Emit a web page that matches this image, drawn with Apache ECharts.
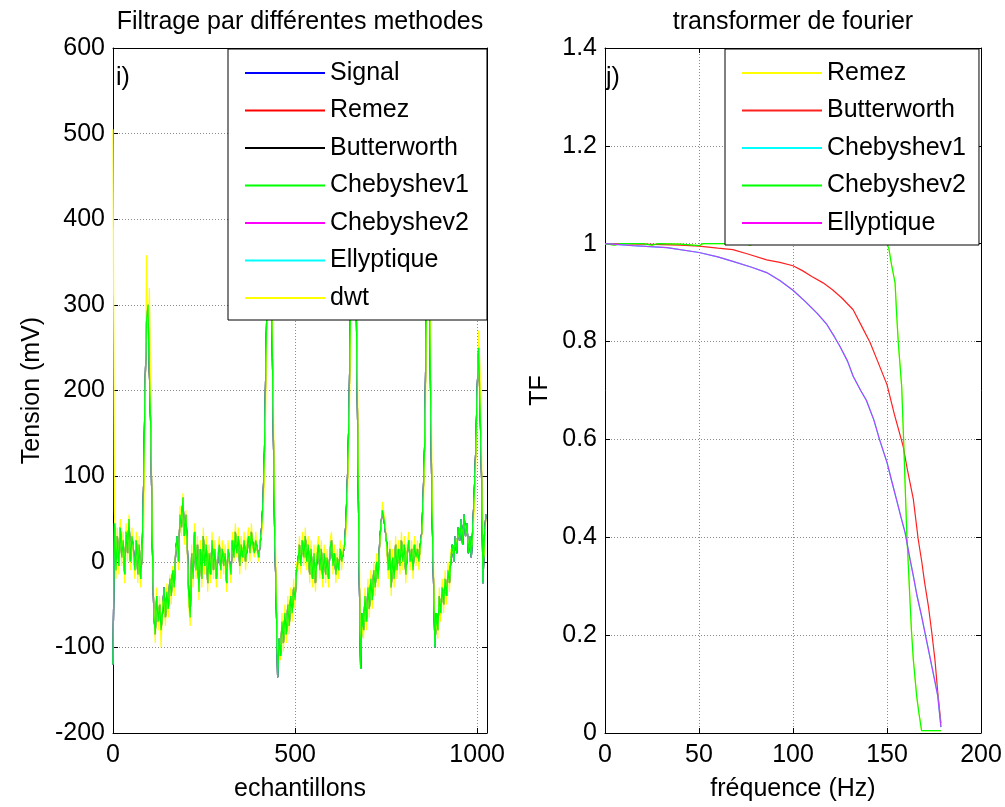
<!DOCTYPE html>
<html><head><meta charset="utf-8">
<script src="https://cdn.jsdelivr.net/npm/echarts@6/dist/echarts.min.js"></script>
<style>html,body{margin:0;padding:0;background:#fff}
#wrap{position:relative;width:1005px;height:807px}
.c{position:absolute;left:0;top:0;width:1005px;height:807px}</style>
</head><body><div id="wrap"><div id="a" class="c"></div><div id="b" class="c"></div></div>
<script>
const FONT = "'Liberation Sans', Arial, sans-serif";

// ---------- Left panel: samples (every 4th sample) ----------
const sampleStep = 4;
// Chebyshev1 (green) - the other filtered traces lie under it
const cheby1Values = [
 -120,45,-10,30,-5,40,5,25,-15,35,10,50,0,30,15,-10,25,-15,20,-20,
 10,90,200,280,300,220,150,20,-60,-85,-40,-70,-50,-80,-60,-30,-65,-35,-55,-20,
 -40,-10,-30,10,30,0,55,40,75,30,55,20,-40,-65,10,-20,35,-10,20,-35,
 15,-20,30,-5,20,-25,10,-15,25,-10,15,-20,5,20,-10,15,-5,10,-25,15,
 0,-15,25,5,35,10,30,-5,20,5,25,0,15,30,10,35,20,10,25,15,
 5,20,40,70,130,240,330,420,380,300,160,30,-40,-135,-90,-110,-70,-95,-60,-85,
 -50,-75,-40,-60,-30,-45,-10,0,20,-5,25,5,30,0,20,-15,15,-20,10,-25,
 5,20,-10,15,-20,10,-15,5,-20,15,25,-5,10,-15,5,-10,15,0,10,20,
 50,100,170,290,420,460,380,300,150,-10,-125,-60,-80,-40,-70,-30,-55,-20,-45,-10,
 -30,0,-20,20,45,60,50,35,20,-10,15,-30,5,-20,20,-10,15,-5,25,0,
 20,-15,10,25,0,15,-10,20,5,15,0,20,35,80,140,280,430,360,200,60,
 -20,-100,-60,-80,-40,-60,-30,-50,-20,-40,-10,-25,5,20,0,30,10,40,25,50,
 20,55,30,45,10,30,5,40,80,130,200,250,180,100,-25,30,55
];
// dwt (yellow)
const dwtValues = [
 505,60,-20,40,-15,50,-5,35,-25,45,0,55,-10,40,5,-20,35,-25,30,-30,
 15,40,150,358,260,320,170,30,-50,-95,-30,-80,-40,-100,-50,-40,-75,-25,-65,-15,
 -50,-5,-40,15,20,-10,65,30,80,20,60,10,-50,-75,20,-30,45,-20,30,-45,
 25,-30,40,-15,30,-35,20,-25,35,-20,25,-30,15,30,-20,25,-15,20,-35,25,
 -10,-25,35,0,45,5,40,-15,30,0,35,-10,25,40,0,45,15,5,35,10,
 0,25,30,50,100,200,300,400,450,340,200,60,-20,-110,-100,-115,-60,-105,-50,-95,
 -40,-85,-30,-70,-20,-55,0,-10,30,-15,35,-5,40,-10,30,-25,25,-30,20,-35,
 15,30,-20,25,-30,20,-25,15,-30,25,35,-15,20,-25,15,-20,25,-10,20,15,
 35,80,140,250,380,480,420,330,190,20,-100,-75,-90,-30,-80,-20,-65,-10,-55,0,
 -40,10,-30,15,40,70,55,45,10,-20,25,-40,15,-30,30,-20,25,-15,35,-10,
 30,-25,20,35,-10,25,-20,30,-5,25,-10,15,30,60,120,240,380,420,260,100,
 0,-85,-70,-90,-30,-70,-20,-60,-10,-50,0,-35,15,10,10,20,20,30,35,40,
 30,45,40,35,20,20,15,30,60,110,170,270,220,130,0,10,50
];
const leftNames = ['Signal','Remez','Butterworth','Chebyshev1','Chebyshev2','Ellyptique','dwt'];
const leftColors = ['#0000ff','#ff0000','#000000','#00ff00','#ff00ff','#00ffff','#ffff00'];
const leftXTicks = [0, 500, 1000];
const leftYTicks = [-200,-100,0,100,200,300,400,500,600];

// ---------- Right panel: frequency responses ----------
const bwFreq = [0,20,40,50,60,68,76,86,93,100,105,110,116,121,126,132,137,141,145,150,154,158.6,161,164,166.6,168.5,170,172,173.8,175.5,177,178.7];
const bwMag  = [1,0.999,0.997,0.995,0.991,0.988,0.979,0.967,0.962,0.955,0.945,0.933,0.92,0.906,0.889,0.865,0.828,0.798,0.76,0.712,0.65,0.586,0.535,0.478,0.396,0.35,0.308,0.26,0.206,0.15,0.083,0.02];
const elFreq = [0,15,33,50,60,68,78,86,93,100,107,113,118,122,125,129,132,136,139,143,146,150,152.5,155,157.5,159.6,162,164,166,168.4,171,173.8,175.5,177,178.7];
const elMag  = [1,0.996,0.992,0.982,0.973,0.964,0.952,0.941,0.925,0.905,0.88,0.857,0.835,0.81,0.79,0.76,0.729,0.7,0.68,0.64,0.6,0.553,0.515,0.478,0.44,0.41,0.36,0.321,0.28,0.239,0.19,0.137,0.105,0.076,0.012];
const c2Freq = [0,5,8,20,25,28,40,50,52,75,77,80,150,151,152.5,154.3,155,156,157.8,158.7,159.6,160.5,161.5,162.2,163,164,165.8,167,168.4,178.7];
const c2Mag  = [1,0.997,1,1,0.997,1,0.999,0.996,1,1,0.997,1,1,0.99,0.955,0.92,0.865,0.798,0.709,0.614,0.512,0.41,0.33,0.273,0.21,0.15,0.075,0.04,0.005,0.005];
const rightNames = ['Remez','Butterworth','Chebyshev1','Chebyshev2','Ellyptique'];
const rightColors = ['#ffff00','#ff2020','#00ffff','#00ff00','#ff00ff'];
const rightXTicks = [0,50,100,150,200];
const rightYTicks = [0,0.2,0.4,0.6,0.8,1,1.2,1.4];

const pairs = (xs, ys) => ys.map((y, i) => [xs[i], y]);
const bySample = ys => ys.map((y, i) => [i * sampleStep, y]);

const gridLine = {show: true, lineStyle: {color: '#8a8a8a', type: [1, 2], width: 1}};
const axisLine = {show: true, onZero: false, lineStyle: {color: '#000', width: 1}};
const tick = {show: true, inside: true, length: 5, lineStyle: {color: '#000'}};
const lbl = {color: '#000', fontSize: 25, fontFamily: FONT};

function axesFor(xt, yt, xmax, xname, yname, ynameGap) {
  const xInt = xt[1] - xt[0], yInt = yt[1] - yt[0];
  const fmt = list => v => (list.some(t => Math.abs(t - v) < 1e-9) ? String(+v.toFixed(2)) : '');
  return {
    x: [
      {type: 'value', position: 'bottom', min: xt[0], max: xmax, interval: xInt,
       axisLine, axisTick: tick, splitLine: gridLine,
       axisLabel: Object.assign({margin: 10, formatter: fmt(xt)}, lbl),
       name: xname, nameLocation: 'middle', nameGap: 44, nameTextStyle: lbl},
      {type: 'value', position: 'top', min: xt[0], max: xmax, interval: xInt,
       axisLine, axisTick: tick, splitLine: {show: false}, axisLabel: {show: false}}
    ],
    y: [
      {type: 'value', position: 'left', min: yt[0], max: yt[yt.length - 1], interval: yInt,
       axisLine, axisTick: tick, splitLine: gridLine,
       axisLabel: Object.assign({margin: 8, formatter: fmt(yt)}, lbl),
       name: yname, nameLocation: 'middle', nameGap: ynameGap, nameRotate: 90, nameTextStyle: lbl},
      {type: 'value', position: 'right', min: yt[0], max: yt[yt.length - 1], interval: yInt,
       axisLine, axisTick: tick, splitLine: {show: false}, axisLabel: {show: false}}
    ]
  };
}

function mkLine(name, color, data, z, width) {
  return {name, type: 'line', data, symbol: 'none', showSymbol: false, animation: false, z,
    color, lineStyle: {color, width: width || 1}, emphasis: {disabled: true}};
}
// legend keys drawn as thin 80px bars in each entry's colour
const legItems = (names, colors) => names.map((n, i) => ({name: n, icon: 'rect',
  itemStyle: {color: colors[i], opacity: 1, borderWidth: 0}}));
function legend(left, padding, names, colors) {
  return {show: true, orient: 'vertical', left, top: 49, padding,
    backgroundColor: '#fff', borderColor: '#000', borderWidth: 1,
    itemWidth: 80, itemHeight: 2, itemGap: 9.5, selectedMode: false,
    textStyle: {color: '#000', fontSize: 25, fontFamily: FONT, lineHeight: 28}, z: 20,
    data: legItems(names, colors)};
}
function title(x, text) {
  return {type: 'text', x, y: 22, z: 30, style: {text, fontSize: 25, fontFamily: FONT, fill: '#000', align: 'center', verticalAlign: 'middle'}};
}
function tag(x, text) {
  return {type: 'text', x, y: 66, z: 30, style: {text, fontSize: 25, fontFamily: FONT, fill: '#000', align: 'left', verticalAlign: 'top'}};
}

// ----- left chart -----
const A = axesFor(leftXTicks, leftYTicks, 1027, 'echantillons', 'Tension (mV)', 68);
const leftData = {Signal: cheby1Values, Remez: cheby1Values, Butterworth: cheby1Values,
  Chebyshev2: cheby1Values, Ellyptique: cheby1Values, dwt: dwtValues, Chebyshev1: cheby1Values};
const leftSeries = ['Signal','Remez','Butterworth','Chebyshev2','Ellyptique','dwt','Chebyshev1']
  .map((n, k) => mkLine(n, leftColors[leftNames.indexOf(n)], bySample(leftData[n]), 2 + k, 1.2));
const chartA = echarts.init(document.getElementById('a'));
chartA.setOption({
  animation: false, backgroundColor: '#fff',
  grid: {left: 113, top: 48, width: 374, height: 687},
  xAxis: A.x, yAxis: A.y,
  legend: legend(228, [10, 18, 8, 17], leftNames, leftColors),
  graphic: [title(300, 'Filtrage par différentes methodes'), tag(116, 'i)')],
  series: leftSeries
});

// ----- right chart -----
const B = axesFor(rightXTicks, rightYTicks, 200, 'fréquence (Hz)', 'TF', 52);
const chartB = echarts.init(document.getElementById('b'));
chartB.setOption({
  animation: false, backgroundColor: 'transparent',
  grid: {left: 605, top: 48, width: 376, height: 686},
  xAxis: B.x, yAxis: B.y,
  legend: legend(725, [10, 13, 8, 17], rightNames, rightColors),
  graphic: [title(793, 'transformer de fourier'), tag(606, 'j)')],
  series: [
    mkLine('Remez', rightColors[0], pairs(c2Freq, c2Mag), 2, 1.2),
    mkLine('Butterworth', rightColors[1], pairs(bwFreq, bwMag), 3, 1.2),
    mkLine('Chebyshev1', rightColors[2], pairs(elFreq, elMag), 4, 1.2),
    mkLine('Chebyshev2', rightColors[3], pairs(c2Freq, c2Mag), 5, 1.2),
    mkLine('Ellyptique', '#b840ff', pairs(elFreq, elMag), 6, 1.2)
  ]
});
</script></body></html>
